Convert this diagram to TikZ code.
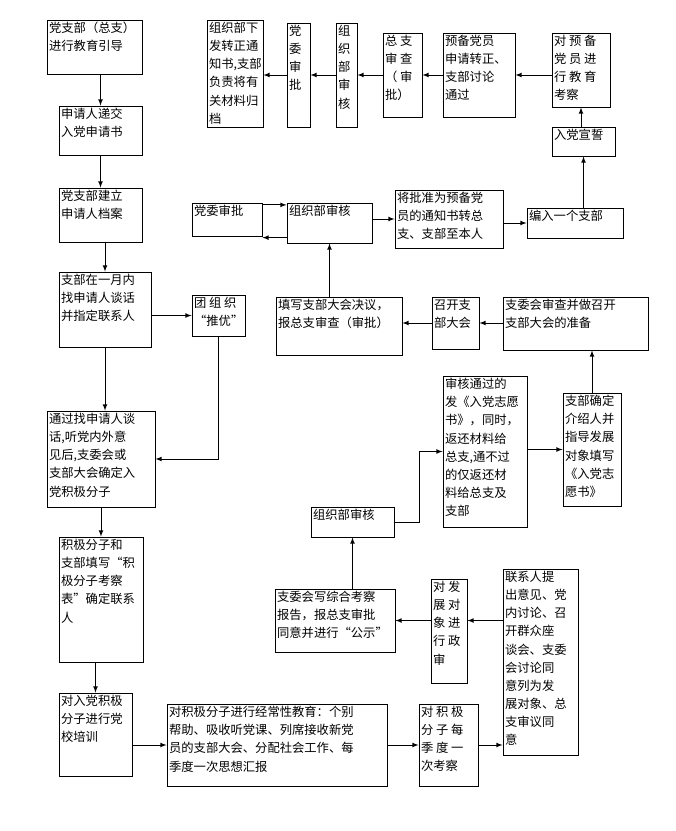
\documentclass[tikz,border=0pt]{standalone}
\usepackage{fontspec}
\setmainfont{Noto Sans CJK SC}
\usetikzlibrary{arrows}
\usetikzlibrary{fit}
\tikzset{
  box/.style={draw, thick, inner sep=0pt},
  txt/.style={inner sep=2pt, align=left, font={\fontsize{10.5}{15.5}\selectfont}},
  flow/.style={thick, -latex}
}
\newcommand\stepbox[6]{%
  \node[box, fit={(#2,#3) (#4,#5)}] (#1) {};
  \node[txt, anchor=north west] at (#1.north west) {#6};}

\begin{document}
\begin{tikzpicture}[x=0.03cm, y=-0.03cm]
\useasboundingbox (0,0) rectangle (676,831);
% left column
\stepbox{a1}{47}{20}{142}{74}{党支部（总支）\\进行教育引导}
\stepbox{a2}{59}{106}{142}{155}{申请人递交\\入党申请书}
\stepbox{a3}{59}{188}{142}{242}{党支部建立\\申请人档案}
\stepbox{a4}{59}{272}{151}{347}{支部在一月内\\找申请人谈话\\并指定联系人}
\stepbox{tuan}{192}{295}{245}{336}{团 组 织\\“推优”}
\stepbox{a5}{47}{411}{155}{507}{通过找申请人谈\\话,听党内外意\\见后,支委会或\\支部大会确定入\\党积极分子}
\stepbox{a6}{59}{537}{143}{662}{积极分子和\\支部填写“积\\极分子考察\\表”确定联系\\人}
\stepbox{a7}{59}{693}{132}{776}{对入党积极\\分子进行党\\校培训}
% top row
\stepbox{t1}{207}{20}{263}{127}{组织部下\\发转正通\\知书,支部\\负责将有\\关材料归\\档}
\stepbox{t2}{287}{23}{310}{127}{党\\委\\审\\批}
\stepbox{t3}{336}{23}{357}{127}{组\\织\\部\\审\\核}
\stepbox{t4}{383}{33}{422}{117}{总 支\\审 查\\（ 审\\批）}
\stepbox{t5}{443}{33}{515}{117}{预备党员\\申请转正、\\支部讨论\\通过}
\stepbox{t6}{552}{33}{610}{107}{对 预 备\\党 员 进\\行 教 育\\考察}
\stepbox{t7}{552}{127}{615}{156}{入党宣誓}
% second row
\stepbox{r1}{192}{203}{262}{236}{党委审批}
\stepbox{r2}{287}{203}{372}{243}{组织部审核}
\stepbox{r3}{395}{190}{503}{248}{将批准为预备党\\员的通知书转总\\支、支部至本人}
\stepbox{r4}{527}{208}{623}{238}{编入一个支部}
% third row
\stepbox{s1}{276}{297}{402}{355}{填写支部大会决议，\\报总支审查（审批）}
\stepbox{s2}{432}{297}{479}{349}{召开支\\部大会}
\stepbox{s3}{503}{297}{648}{350}{支委会审查并做召开\\支部大会的准备}
% middle
\stepbox{m1}{443}{376}{527}{527}{审核通过的\\发《入党志愿\\书》，同时，\\返还材料给\\总支,通不过\\的仅返还材\\料给总支及\\支部}
\stepbox{m2}{563}{393}{621}{506}{支部确定\\介绍人并\\指导发展\\对象填写\\《入党志\\愿书》}
\stepbox{m3}{311}{507}{394}{537}{组织部审核}
% lower
\stepbox{l1}{275}{589}{395}{652}{支委会写综合考察\\报告，报总支审批\\同意并进行“公示”}
\stepbox{l2}{431}{579}{467}{683}{对 发\\展 对\\象 进\\行 政\\审}
\stepbox{l3}{503}{569}{578}{755}{联系人提\\出意见、党\\内讨论、召\\开群众座\\谈会、支委\\会讨论同\\意列为发\\展对象、总\\支审议同\\意}
\stepbox{b1}{167}{704}{387}{786}{对积极分子进行经常性教育：个别\\帮助、吸收听党课、列席接收新党\\员的支部大会、分配社会工作、每\\季度一次思想汇报}
\stepbox{b2}{419}{704}{478}{786}{对 积 极\\分 子 每\\季 度 一\\次考察}
% connectors
\draw[flow] (a2.north |- a1.south) -- (a2.north);
\draw[flow] (a3.north |- a2.south) -- (a3.north);
\draw[flow] (a4.north |- a3.south) -- (a4.north);
\draw[flow] (a4.south) -- (a4.south |- a5.north);
\draw[flow] (a4.east |- tuan) -- (tuan.west);
\draw[flow] (tuan.south) |- (a5.east);
\draw[flow] (a6.north |- a5.south) -- (a6.north);
\draw[flow] (a7.north |- a6.south) -- (a7.north);
\draw[flow] (a7.east |- b1) -- (b1.west);
\draw[flow] (b1.east |- b2) -- (b2.west);
\draw[flow] (b2.east) -- (b2.east -| l3.west);
\draw[flow] (l3.west |- l1.east) -- (l2.east |- l1.east);
\draw[flow] (l2.west |- l1.east) -- (l1.east);
\draw[flow] (m3.south |- l1.north) -- (m3.south);
\draw[flow] (m3.east) -- ++(25,0) |- (m1.west);
\draw[flow] (m1.east |- m2) -- (m2.west);
\draw[flow] (m2.north) -- (m2.north |- s3.south);
\draw[flow] (s3.west |- s2) -- (s2.east);
\draw[flow] (s2.west) -- (s2.west -| s1.east);
\draw[flow] (r2.south |- s1.north) -- (r2.south);
\draw[flow] ([yshift=-2pt]r1.north east) -- ([yshift=-2pt]r1.north east -| r2.west);
\draw[flow] ([yshift=5pt]r2.south west) -- ([yshift=5pt]r2.south west -| r1.east);
\draw[flow] (r2.east |- r3) -- (r3.west);
\draw[flow] (r3.east |- r4) -- (r4.west);
\draw[flow] (t7.south |- r4.north) -- (t7.south);
\draw[flow] (t6.south |- t7.north) -- (t6.south);
\draw[flow] (t6.west |- t5) -- (t5.east);
\draw[flow] (t5.west) -- (t5.west -| t4.east);
\draw[flow] (t4.west) -- (t4.west -| t3.east);
\draw[flow] (t3.west |- t4.west) -- (t2.east |- t4.west);
\draw[flow] (t2.west |- t4.west) -- (t1.east |- t4.west);
\end{tikzpicture}
\end{document}
